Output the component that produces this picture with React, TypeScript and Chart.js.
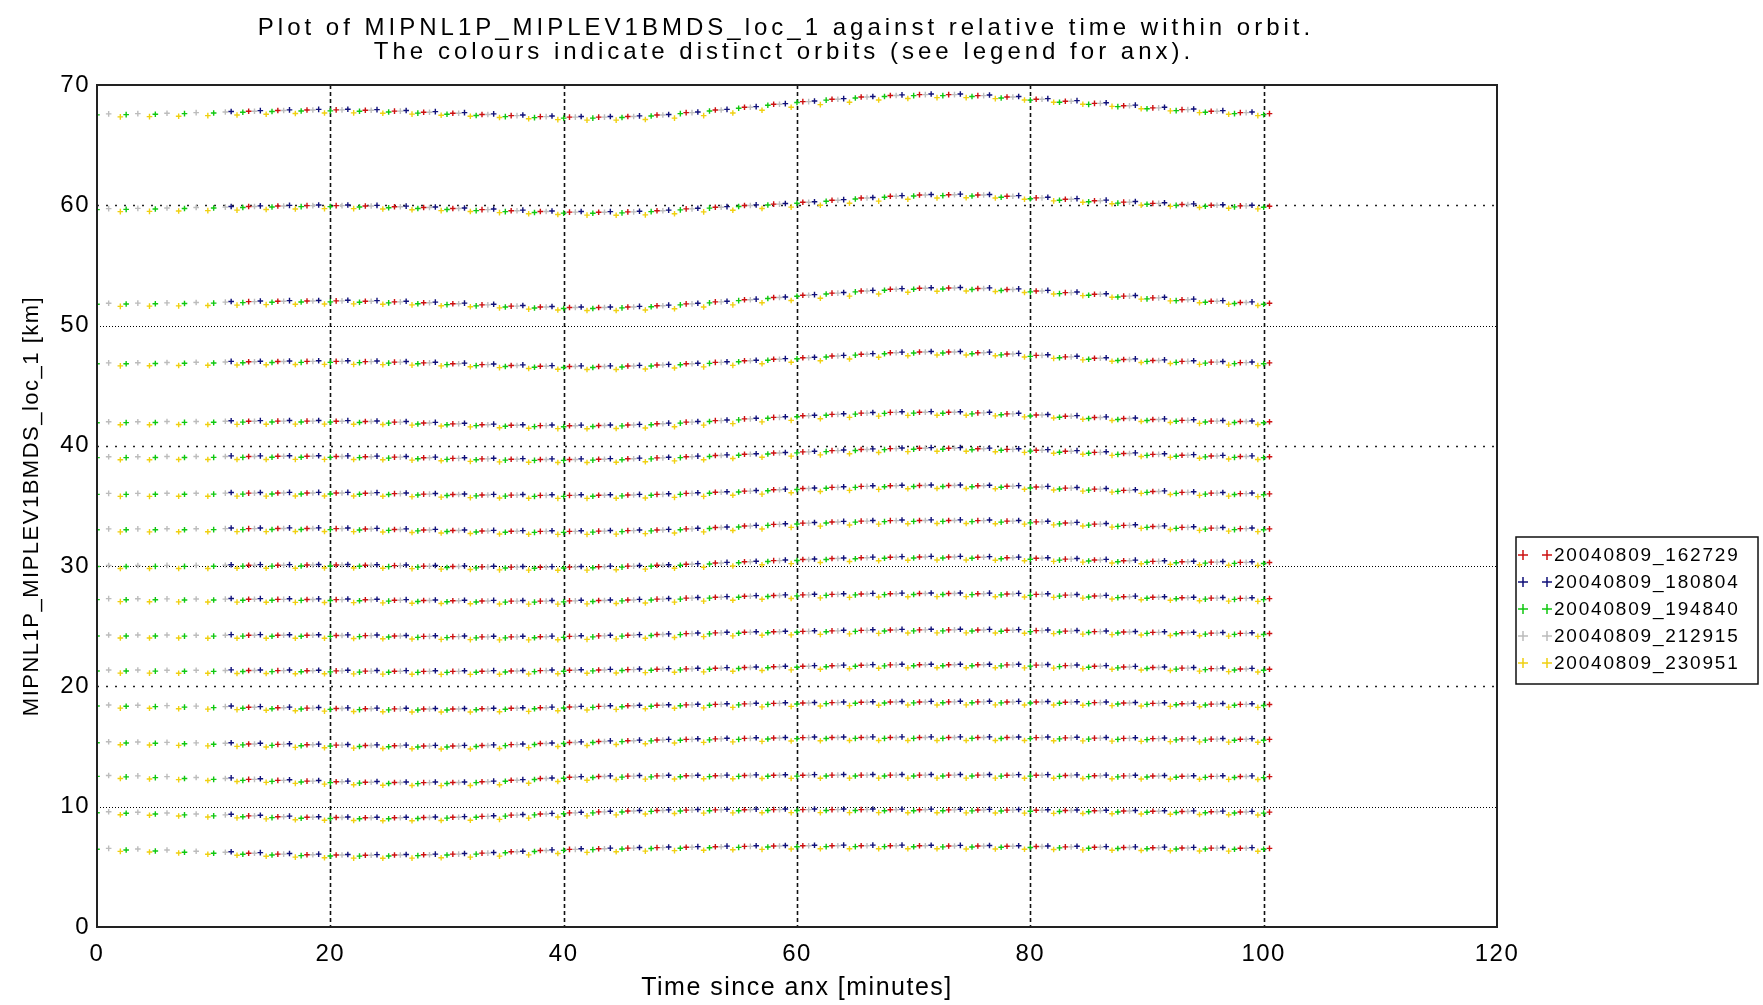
import { useEffect, useRef } from "react";
import { Chart, registerables } from "chart.js";

Chart.register(...registerables);

// ---------------- data ----------------
const orbitLabels = [
  "20040809_162729",
  "20040809_180804",
  "20040809_194840",
  "20040809_212915",
  "20040809_230951",
];
const orbitColors = ["#cc1010", "#10107a", "#10c810", "#bcbcbc", "#f0d010"];
// time shift of each orbit's scans within the 2.5-minute scan pattern [minutes]
const orbitTimeShift = [0.5, 1.5, 0.0, 1.0, 2.0];
// first / last time covered by each orbit [minutes]
const orbitStart = [11, 11, 0, 0, 0];
const orbitEnd = [100.6, 100.6, 100.6, 100.6, 100.6];
// small altitude bias of each orbit [km]
const orbitAltitudeOffset = [0, 0.05, -0.08, 0, -0.25];

// scan times within the orbit [minutes]
const scanTimes = [
  0, 2.5, 5, 7.5, 10, 12.5, 15, 17.5, 20, 22.5, 25, 27.5, 30, 32.5, 35, 37.5, 40, 42.5, 45, 47.5,
  50, 52.5, 55, 57.5, 60, 62.5, 65, 67.5, 70, 72.5, 75, 77.5, 80, 82.5, 85, 87.5, 90, 92.5, 95, 97.5, 100,
];

// tangent altitude [km] of each sweep, at each scan time
const alt68 = [67.60,67.62,67.65,67.70,67.75,67.82,67.88,67.92,67.93,67.90,67.83,67.74,67.65,67.55,67.45,67.37,67.33,67.33,67.38,67.50,67.70,67.92,68.15,68.40,68.62,68.82,69.00,69.13,69.20,69.20,69.12,69.00,68.82,68.65,68.47,68.28,68.10,67.95,67.82,67.70,67.62];
const alt60 = [59.72,59.74,59.77,59.81,59.85,59.90,59.94,59.97,59.97,59.94,59.88,59.81,59.73,59.64,59.55,59.48,59.43,59.42,59.45,59.55,59.70,59.84,59.98,60.10,60.25,60.42,60.60,60.75,60.85,60.88,60.85,60.75,60.62,60.50,60.38,60.26,60.16,60.07,60.00,59.95,59.92];
const alt52 = [51.85,51.87,51.89,51.92,51.95,51.99,52.02,52.04,52.05,52.02,51.97,51.90,51.82,51.72,51.62,51.54,51.50,51.50,51.55,51.65,51.80,51.97,52.15,52.33,52.52,52.70,52.88,53.02,53.10,53.12,53.08,53.00,52.88,52.74,52.60,52.45,52.30,52.15,52.02,51.92,51.85];
const alt47 = [46.90,46.91,46.93,46.95,46.97,46.99,47.01,47.02,47.02,47.00,46.96,46.90,46.83,46.75,46.68,46.62,46.60,46.60,46.64,46.72,46.82,46.94,47.07,47.20,47.32,47.47,47.62,47.74,47.80,47.80,47.74,47.64,47.52,47.40,47.28,47.18,47.10,47.02,46.96,46.92,46.90];
const alt42 = [42.00,42.01,42.02,42.03,42.04,42.05,42.06,42.06,42.05,42.02,41.97,41.90,41.83,41.76,41.71,41.68,41.67,41.69,41.74,41.84,41.97,42.10,42.24,42.37,42.50,42.62,42.72,42.78,42.80,42.79,42.74,42.66,42.56,42.46,42.36,42.27,42.19,42.12,42.06,42.02,42.00];
const alt39 = [39.10,39.10,39.11,39.11,39.12,39.12,39.13,39.13,39.12,39.10,39.06,39.01,38.96,38.92,38.89,38.87,38.87,38.89,38.93,39.00,39.10,39.20,39.30,39.40,39.50,39.60,39.70,39.77,39.80,39.80,39.76,39.71,39.64,39.55,39.46,39.37,39.29,39.22,39.16,39.12,39.10];
const alt36 = [36.05,36.05,36.06,36.06,36.07,36.07,36.08,36.08,36.08,36.06,36.03,35.99,35.95,35.92,35.90,35.88,35.88,35.89,35.92,35.97,36.05,36.14,36.24,36.35,36.45,36.55,36.63,36.68,36.70,36.70,36.68,36.64,36.58,36.49,36.40,36.30,36.21,36.13,36.07,36.03,36.01];
const alt33 = [33.10,33.10,33.11,33.11,33.12,33.12,33.13,33.13,33.12,33.09,33.05,33.01,32.96,32.92,32.90,32.89,32.89,32.91,32.95,33.01,33.10,33.21,33.34,33.47,33.58,33.67,33.74,33.78,33.80,33.80,33.78,33.74,33.68,33.59,33.49,33.39,33.30,33.22,33.16,33.12,33.10];
const alt30 = [30.05,30.05,30.06,30.06,30.07,30.08,30.08,30.09,30.09,30.07,30.04,30.00,29.97,29.94,29.92,29.91,29.92,29.95,30.00,30.07,30.16,30.26,30.36,30.46,30.55,30.63,30.70,30.74,30.76,30.76,30.74,30.70,30.65,30.58,30.51,30.45,30.40,30.36,30.33,30.31,30.30];
const alt27 = [27.30,27.29,27.28,27.27,27.26,27.25,27.24,27.23,27.22,27.20,27.17,27.14,27.12,27.10,27.09,27.09,27.11,27.14,27.19,27.26,27.34,27.42,27.50,27.56,27.61,27.65,27.69,27.71,27.72,27.72,27.71,27.69,27.65,27.59,27.52,27.46,27.41,27.37,27.34,27.32,27.30];
const alt24 = [24.27,24.27,24.27,24.26,24.26,24.26,24.25,24.25,24.24,24.22,24.19,24.16,24.14,24.12,24.12,24.13,24.16,24.20,24.26,24.32,24.39,24.45,24.50,24.54,24.58,24.62,24.66,24.69,24.70,24.70,24.69,24.67,24.64,24.60,24.56,24.52,24.49,24.46,24.43,24.41,24.40];
const alt21 = [21.36,21.36,21.35,21.34,21.33,21.32,21.31,21.30,21.29,21.27,21.26,21.25,21.25,21.26,21.28,21.31,21.34,21.37,21.40,21.43,21.46,21.51,21.57,21.63,21.68,21.72,21.76,21.79,21.80,21.80,21.80,21.79,21.77,21.73,21.68,21.62,21.57,21.52,21.48,21.45,21.43];
const alt18 = [18.45,18.43,18.40,18.36,18.32,18.27,18.23,18.20,18.17,18.15,18.13,18.12,18.12,18.14,18.18,18.23,18.29,18.34,18.39,18.43,18.47,18.51,18.55,18.59,18.62,18.65,18.68,18.70,18.71,18.72,18.72,18.71,18.70,18.68,18.65,18.62,18.59,18.56,18.53,18.51,18.50];
const alt15 = [15.40,15.38,15.35,15.31,15.27,15.22,15.18,15.15,15.12,15.09,15.07,15.05,15.05,15.09,15.16,15.25,15.34,15.42,15.49,15.55,15.60,15.64,15.68,15.71,15.74,15.75,15.76,15.76,15.76,15.76,15.76,15.75,15.74,15.72,15.70,15.68,15.66,15.64,15.62,15.61,15.60];
const alt12 = [12.60,12.56,12.50,12.43,12.35,12.27,12.19,12.13,12.08,12.04,12.01,12.00,12.01,12.08,12.20,12.34,12.45,12.51,12.54,12.56,12.57,12.58,12.60,12.61,12.62,12.63,12.63,12.63,12.63,12.63,12.63,12.62,12.62,12.60,12.58,12.56,12.55,12.53,12.52,12.51,12.50];
const alt9 = [9.58,9.54,9.48,9.40,9.32,9.24,9.17,9.12,9.10,9.08,9.08,9.10,9.13,9.20,9.30,9.40,9.49,9.57,9.64,9.69,9.72,9.74,9.75,9.76,9.76,9.76,9.76,9.75,9.75,9.74,9.73,9.72,9.70,9.68,9.66,9.64,9.62,9.60,9.58,9.56,9.55];
const alt6 = [6.54,6.48,6.40,6.30,6.21,6.13,6.06,6.01,5.98,5.97,5.98,6.01,6.06,6.14,6.25,6.36,6.45,6.51,6.56,6.60,6.63,6.67,6.70,6.73,6.75,6.76,6.76,6.76,6.75,6.74,6.73,6.71,6.69,6.66,6.63,6.61,6.59,6.57,6.56,6.55,6.54];

const sweepAltitudes = [alt68, alt60, alt52, alt47, alt42, alt39, alt36, alt33, alt30, alt27, alt24, alt21, alt18, alt15, alt12, alt9, alt6];

const xGridValues = [20, 40, 60, 80, 100];
const yGridValues = [10, 20, 30, 40, 50, 60];

const titleLines = [
  "Plot of MIPNL1P_MIPLEV1BMDS_loc_1 against relative time within orbit.",
  "The colours indicate distinct orbits (see legend for anx).",
];
const xAxisTitle = "Time since anx [minutes]";
const yAxisTitle = "MIPNL1P_MIPLEV1BMDS_loc_1 [km]";

// ---------------- drawing helpers ----------------
const FONT = "'Liberation Sans', Arial, sans-serif";

function drawCross(ctx: CanvasRenderingContext2D, x: number, y: number, r: number, color: string) {
  ctx.save();
  ctx.strokeStyle = color;
  ctx.lineWidth = 1.5;
  ctx.beginPath();
  ctx.moveTo(x - r, y);
  ctx.lineTo(x + r, y);
  ctx.moveTo(x, y - r);
  ctx.lineTo(x, y + r);
  ctx.stroke();
  ctx.restore();
}

const spacingPlugin = {
  id: "letterSpacing",
  beforeDraw(chart: any) {
    (chart.ctx as any).letterSpacing = "1.5px";
  },
};

const gridPlugin = {
  id: "customGrid",
  beforeDatasetsDraw(chart: any) {
    const { ctx, chartArea, scales } = chart;
    ctx.save();
    // vertical dashed grid lines
    ctx.strokeStyle = "#111";
    ctx.lineWidth = 1.6;
    ctx.setLineDash([4, 3]);
    for (const v of xGridValues) {
      const x = Math.round(scales.x.getPixelForValue(v)) + 0.5;
      ctx.beginPath();
      ctx.moveTo(x, chartArea.top);
      ctx.lineTo(x, chartArea.bottom);
      ctx.stroke();
    }
    // horizontal dotted grid lines
    yGridValues.forEach((v, i) => {
      const y = Math.round(scales.y.getPixelForValue(v)) + 0.5;
      if (i % 2 === 0) {
        ctx.strokeStyle = "#000";
        ctx.lineWidth = 1;
        ctx.setLineDash([1, 2]);
      } else {
        ctx.strokeStyle = "#222";
        ctx.lineWidth = 1.6;
        ctx.setLineDash([2, 7]);
      }
      ctx.beginPath();
      ctx.moveTo(chartArea.left, y);
      ctx.lineTo(chartArea.right, y);
      ctx.stroke();
    });
    ctx.restore();
  },
  afterDatasetsDraw(chart: any) {
    const { ctx, chartArea } = chart;
    ctx.save();
    ctx.strokeStyle = "#222";
    ctx.lineWidth = 2;
    ctx.strokeRect(chartArea.left, chartArea.top, chartArea.right - chartArea.left, chartArea.bottom - chartArea.top);
    ctx.restore();
  },
};

const textPlugin = {
  id: "titleAndLegend",
  afterDraw(chart: any) {
    const { ctx } = chart;
    ctx.save();
    ctx.fillStyle = "#000";
    ctx.textAlign = "center";
    ctx.textBaseline = "middle";
    // title
    ctx.font = `24px ${FONT}`;
    (ctx as any).letterSpacing = "4px";
    ctx.fillText(titleLines[0], 786, 28);
    ctx.fillText(titleLines[1], 784, 52);

    // legend
    const boxL = 1516, boxT = 537, boxR = 1758, boxB = 684;
    ctx.strokeStyle = "#111";
    ctx.lineWidth = 1.5;
    ctx.strokeRect(boxL, boxT, boxR - boxL, boxB - boxT);
    ctx.font = `19px ${FONT}`;
    (ctx as any).letterSpacing = "1.8px";
    ctx.textAlign = "left";
    const ds = chart.data.datasets;
    ds.forEach((d: any, i: number) => {
      const y = 555 + i * 27;
      drawCross(ctx, 1523, y, 5, d.borderColor);
      drawCross(ctx, 1547, y, 5, d.borderColor);
      ctx.fillStyle = "#000";
      ctx.fillText(d.label, 1554, y + 1);
    });
    ctx.restore();
  },
};

export default function App() {
  const ref = useRef<HTMLCanvasElement>(null);

  useEffect(() => {
    const canvas = ref.current;
    if (!canvas) return;
    const datasets = orbitLabels.map((label, o) => {
      const points: { x: number; y: number }[] = [];
      sweepAltitudes.forEach((alts) => {
        scanTimes.forEach((t0, i) => {
          const t = t0 + orbitTimeShift[o];
          if (t < orbitStart[o] || t > orbitEnd[o]) return;
          points.push({ x: t, y: alts[i] + orbitAltitudeOffset[o] });
        });
      });
      return {
        label,
        data: points,
        borderColor: orbitColors[o],
        backgroundColor: orbitColors[o],
        pointStyle: "cross" as const,
        pointRadius: 2.8,
        pointBorderWidth: 1.4,
        showLine: false,
        order: [1, 0, 2, 3, 4][o],
      };
    });

    const chart = new Chart(canvas, {
      type: "scatter",
      data: { datasets },
      plugins: [spacingPlugin, gridPlugin, textPlugin],
      options: {
        responsive: false,
        animation: false,
        devicePixelRatio: 1,
        events: [],
        layout: { padding: { left: 0, right: 266, top: 85, bottom: 0 } },
        plugins: {
          legend: { display: false },
          title: { display: false },
          tooltip: { enabled: false },
        },
        scales: {
          x: {
            type: "linear",
            min: 0,
            max: 120,
            afterFit: (scale: any) => {
              scale.height = 78;
            },
            ticks: {
              stepSize: 20,
              color: "#000",
              padding: 13,
              maxRotation: 0,
              font: { family: FONT, size: 24 },
            },
            grid: { display: false, drawTicks: false },
            border: { display: false },
            title: {
              display: true,
              text: xAxisTitle,
              color: "#000",
              font: { family: FONT, size: 25 },
              padding: { top: 0, bottom: 2 },
            },
          },
          y: {
            type: "linear",
            min: 0,
            max: 70,
            afterFit: (scale: any) => {
              scale.width = 97;
            },
            ticks: {
              stepSize: 10,
              color: "#000",
              padding: 7,
              font: { family: FONT, size: 24 },
            },
            grid: { display: false, drawTicks: false },
            border: { display: false },
            title: {
              display: true,
              text: yAxisTitle,
              color: "#000",
              font: { family: FONT, size: 22 },
              padding: { top: 19, bottom: 0 },
            },
          },
        },
      } as any,
    });
    return () => chart.destroy();
  }, []);

  return (
    <div style={{ position: "absolute", left: 0, top: 0, width: 1763, height: 1005, background: "#fff" }}>
      <canvas ref={ref} width={1763} height={1005} style={{ display: "block", width: 1763, height: 1005 }} />
    </div>
  );
}
